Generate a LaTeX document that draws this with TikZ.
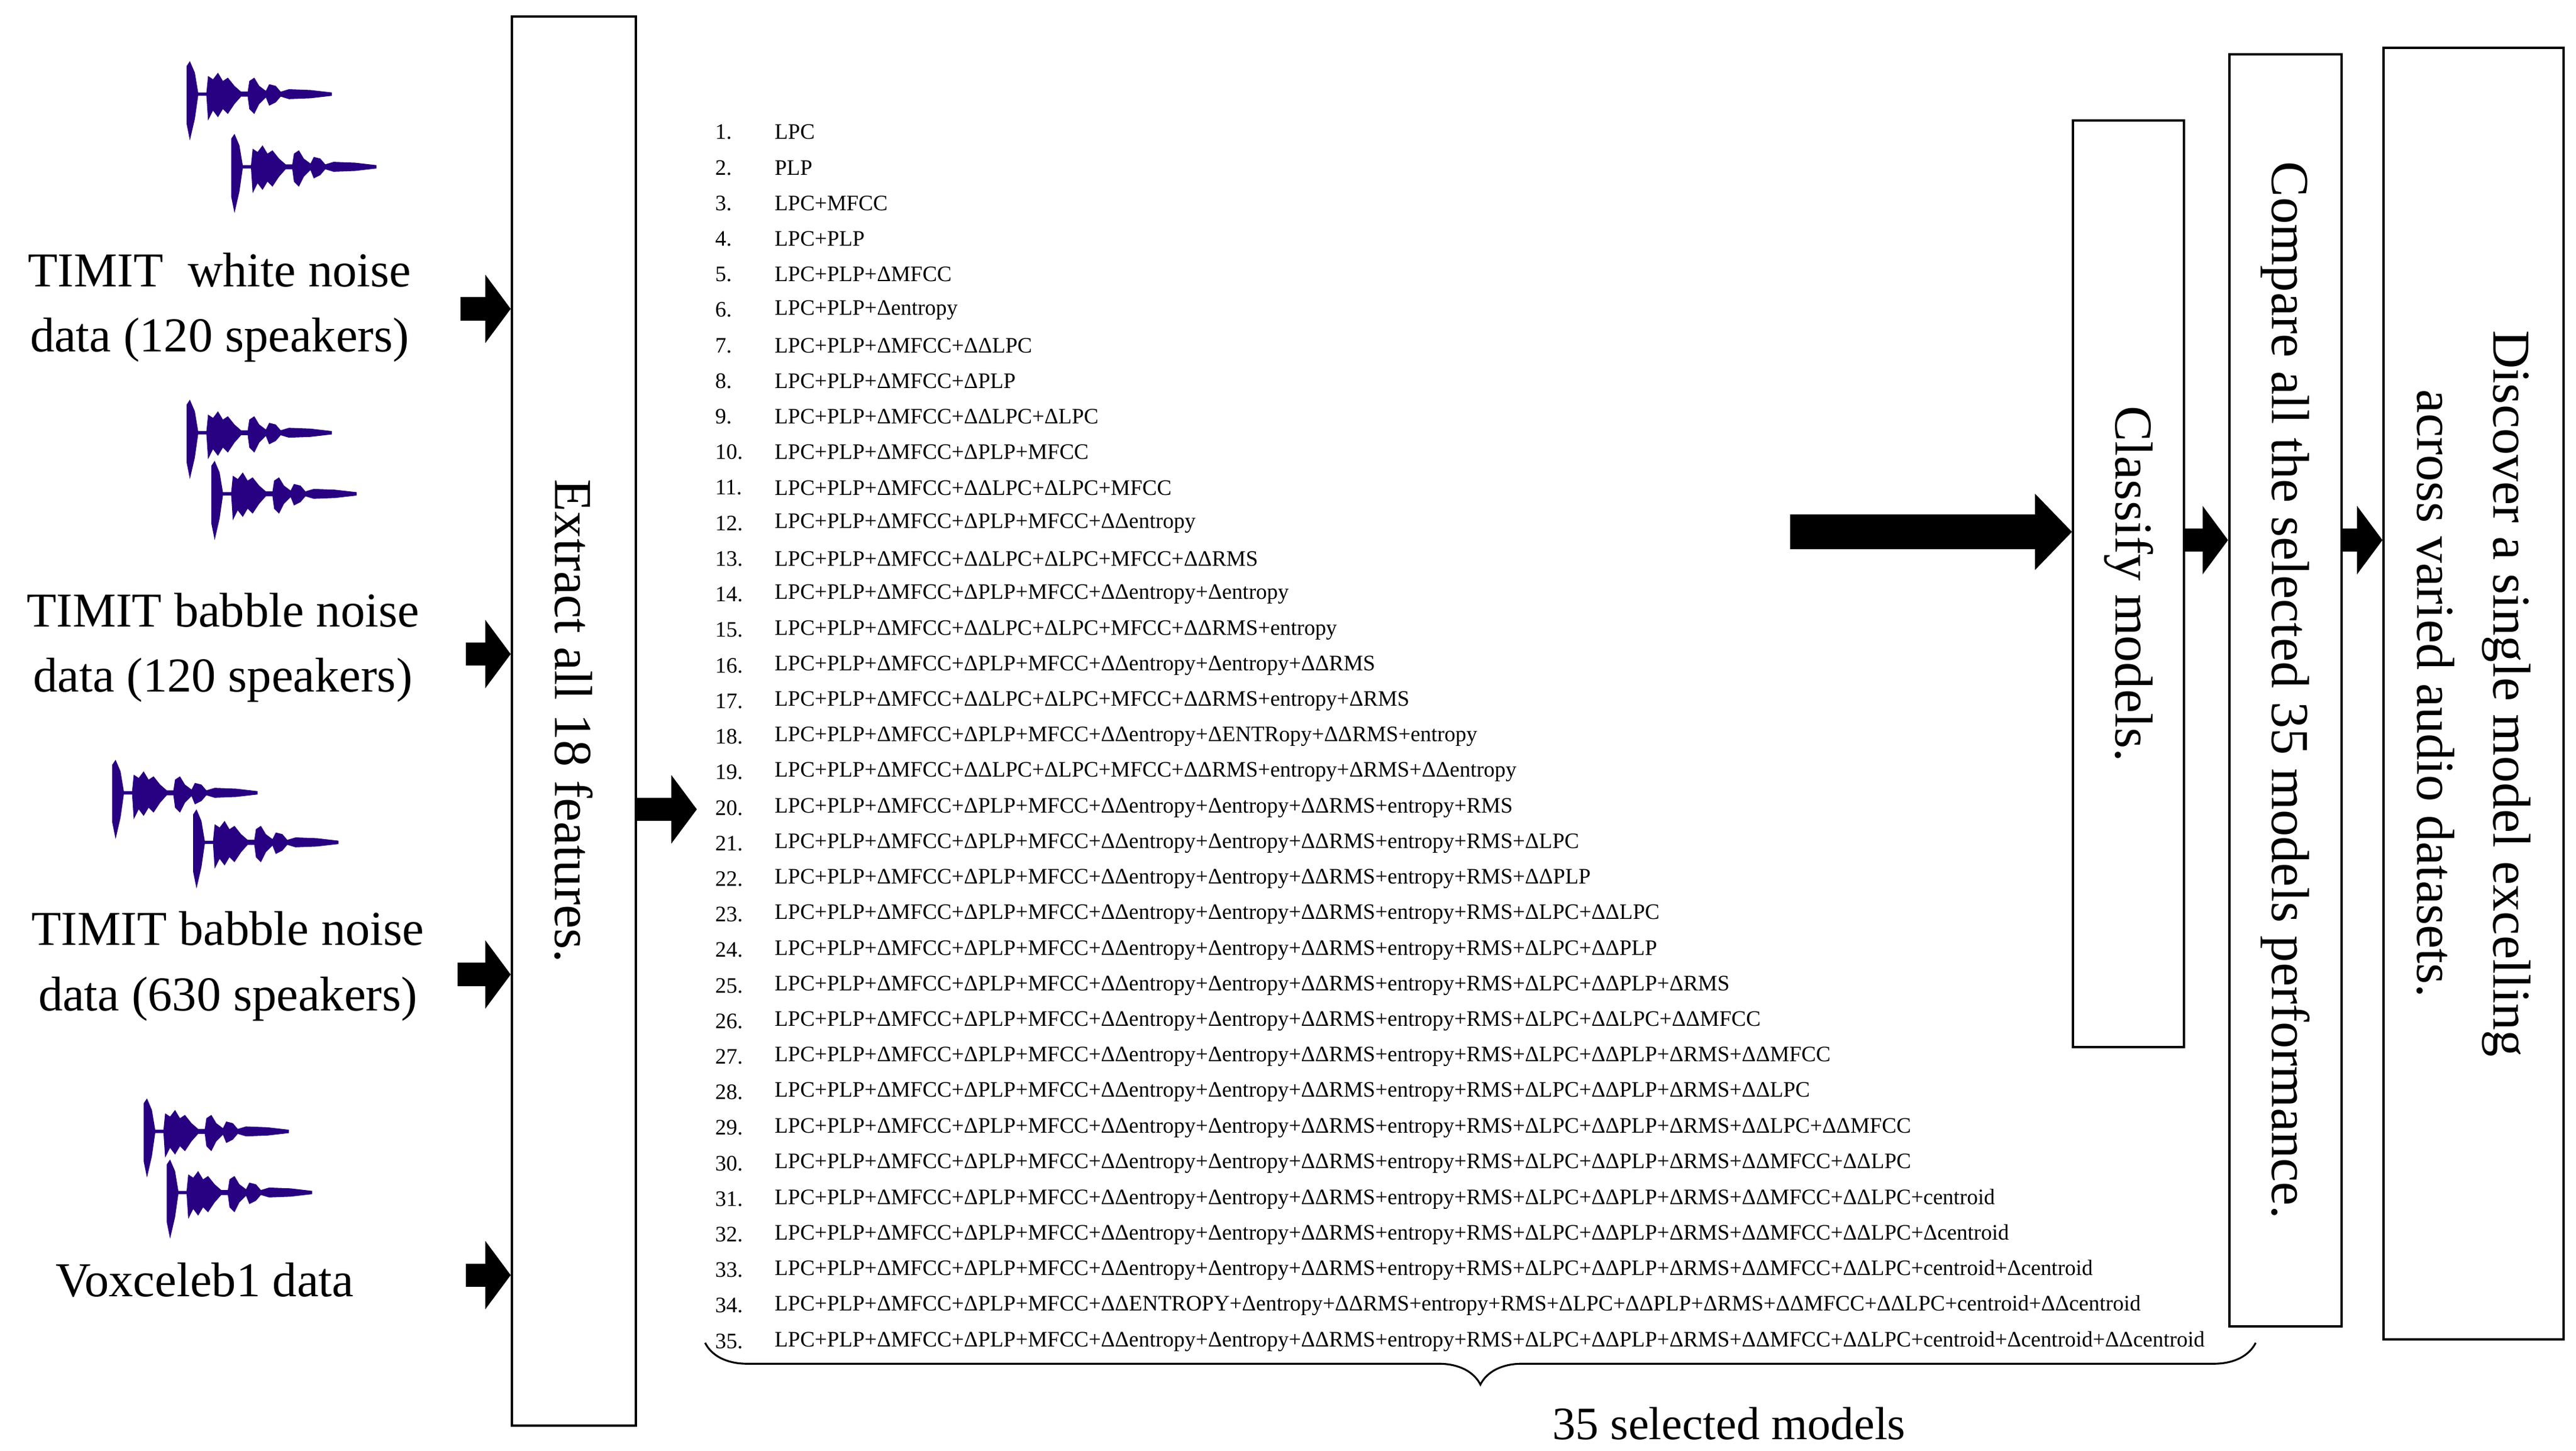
\documentclass[tikz,border=0pt]{standalone}
\usepackage{fontspec}
\setmainfont{Liberation Serif}
\usetikzlibrary{arrows.meta,decorations.pathreplacing}
\definecolor{wavecol}{RGB}{40,0,130}
\begin{document}
\begin{tikzpicture}[x=0.05cm,y=-0.05cm,
  lbl/.style={font=\fontsize{42}{52}\selectfont, align=center, inner sep=0},
  box/.style={draw, line width=2pt, inner sep=0},
  btxt/.style={font=\fontsize{46}{66}\selectfont, rotate=-90, align=center, inner sep=0},
  num/.style={anchor=west, font=\fontsize{19}{22}\selectfont, inner sep=0},
  itm/.style={anchor=west, font=\fontsize{19}{22}\selectfont, inner sep=0},
  blk/.style={line width=20pt, -{Triangle[length=22pt,width=58pt]}},
  wave/.pic={\fill[wavecol] (0,0) -- (0,-17) -- (2,-20) -- (5,-13) -- (7,-1) -- (12,-1) -- (13,-11) -- (16,-9) -- (19,-13) -- (22,-8) -- (25,-10) -- (29,-5) -- (33,-1.5) -- (37,-1.5) -- (38,-8) -- (41,-10) -- (44,-5) -- (48,-2) -- (50,-6) -- (54,-5) -- (57,-1.5) -- (62,-3) -- (75,-2.5) -- (88,-1) -- (88,1) -- (75,2.5) -- (62,3) -- (57,1.5) -- (54,5) -- (50,7) -- (48,2) -- (44,6) -- (41,12) -- (38,9) -- (37,1.5) -- (33,1.5) -- (29,6) -- (25,12) -- (22,9) -- (19,14) -- (16,10) -- (13,16) -- (12,1) -- (7,1) -- (5,15) -- (2,28) -- (0,18) -- cycle;}
]
\useasboundingbox (0,0) rectangle (1560,878.5);
\def\baseL{LPC+PLP+ΔMFCC+ΔPLP+MFCC+ΔΔentropy+Δentropy+ΔΔRMS+entropy+RMS}
\newcommand\li[2]{\node[num] (n#1) at (433,{80+(#1-1)*21.53}) {#1.};
  \node[itm] (t#1) at (469,{80+(#1-1)*21.53}) {\scalebox{0.99}[1]{#2}};}
% waveforms
\pic at (113,57) {wave}; \pic at (140,101) {wave};
\pic at (113,262) {wave}; \pic at (128,299) {wave};
\pic at (68,480) {wave}; \pic at (117,510) {wave};
\pic at (87,685) {wave}; \pic at (101,722) {wave};
% labels
\node[lbl] (d1) at (133,186) {TIMIT\ \ white noise\\[4pt]data (120 speakers)};
\node[lbl] (d2) at (135,392) {TIMIT babble noise\\[4pt]data (120 speakers)};
\node[lbl] (d3) at (138,585) {TIMIT babble noise\\[4pt]data (630 speakers)};
\node[lbl] (d4) at (124,775) {Voxceleb1 data};
% boxes
\node[box, minimum width=75*0.05cm, minimum height=853*0.05cm] (ext) at (347.5,436.5) {};
\node[btxt] at (ext.center) {Extract all 18 features.};
\node[box, minimum width=67*0.05cm, minimum height=561*0.05cm] (cls) at (1289,353.5) {};
\node[btxt] at (cls.center) {Classify models.};
\node[box, minimum width=68*0.05cm, minimum height=770*0.05cm] (cmp) at (1384,418) {};
\node[btxt] at (cmp.center) {Compare all the selected 35 models performance.};
\node[box, minimum width=109*0.05cm, minimum height=782*0.05cm] (dis) at (1498,420) {};
\node[btxt] at (dis.center) {Discover a single model excelling\\across varied audio datasets.};
% list
\li{1}{LPC}
\li{2}{PLP}
\li{3}{LPC+MFCC}
\li{4}{LPC+PLP}
\li{5}{LPC+PLP+ΔMFCC}
\li{6}{LPC+PLP+Δentropy}
\li{7}{LPC+PLP+ΔMFCC+ΔΔLPC}
\li{8}{LPC+PLP+ΔMFCC+ΔPLP}
\li{9}{LPC+PLP+ΔMFCC+ΔΔLPC+ΔLPC}
\li{10}{LPC+PLP+ΔMFCC+ΔPLP+MFCC}
\li{11}{LPC+PLP+ΔMFCC+ΔΔLPC+ΔLPC+MFCC}
\li{12}{LPC+PLP+ΔMFCC+ΔPLP+MFCC+ΔΔentropy}
\li{13}{LPC+PLP+ΔMFCC+ΔΔLPC+ΔLPC+MFCC+ΔΔRMS}
\li{14}{LPC+PLP+ΔMFCC+ΔPLP+MFCC+ΔΔentropy+Δentropy}
\li{15}{LPC+PLP+ΔMFCC+ΔΔLPC+ΔLPC+MFCC+ΔΔRMS+entropy}
\li{16}{LPC+PLP+ΔMFCC+ΔPLP+MFCC+ΔΔentropy+Δentropy+ΔΔRMS}
\li{17}{LPC+PLP+ΔMFCC+ΔΔLPC+ΔLPC+MFCC+ΔΔRMS+entropy+ΔRMS}
\li{18}{LPC+PLP+ΔMFCC+ΔPLP+MFCC+ΔΔentropy+ΔENTRopy+ΔΔRMS+entropy}
\li{19}{LPC+PLP+ΔMFCC+ΔΔLPC+ΔLPC+MFCC+ΔΔRMS+entropy+ΔRMS+ΔΔentropy}
\li{20}{\baseL}
\li{21}{\baseL+ΔLPC}
\li{22}{\baseL+ΔΔPLP}
\li{23}{\baseL+ΔLPC+ΔΔLPC}
\li{24}{\baseL+ΔLPC+ΔΔPLP}
\li{25}{\baseL+ΔLPC+ΔΔPLP+ΔRMS}
\li{26}{\baseL+ΔLPC+ΔΔLPC+ΔΔMFCC}
\li{27}{\baseL+ΔLPC+ΔΔPLP+ΔRMS+ΔΔMFCC}
\li{28}{\baseL+ΔLPC+ΔΔPLP+ΔRMS+ΔΔLPC}
\li{29}{\baseL+ΔLPC+ΔΔPLP+ΔRMS+ΔΔLPC+ΔΔMFCC}
\li{30}{\baseL+ΔLPC+ΔΔPLP+ΔRMS+ΔΔMFCC+ΔΔLPC}
\li{31}{\baseL+ΔLPC+ΔΔPLP+ΔRMS+ΔΔMFCC+ΔΔLPC+centroid}
\li{32}{\baseL+ΔLPC+ΔΔPLP+ΔRMS+ΔΔMFCC+ΔΔLPC+Δcentroid}
\li{33}{\baseL+ΔLPC+ΔΔPLP+ΔRMS+ΔΔMFCC+ΔΔLPC+centroid+Δcentroid}
\li{34}{LPC+PLP+ΔMFCC+ΔPLP+MFCC+ΔΔENTROPY+Δentropy+ΔΔRMS+entropy+RMS+ΔLPC+ΔΔPLP+ΔRMS+ΔΔMFCC+ΔΔLPC+centroid+ΔΔcentroid}
\li{35}{\baseL+ΔLPC+ΔΔPLP+ΔRMS+ΔΔMFCC+ΔΔLPC+centroid+Δcentroid+ΔΔcentroid}
% brace
\coordinate (bl) at (427,813);
\coordinate (br) at (1366,813);
\draw[line width=1.6pt, decorate, decoration={brace, mirror, amplitude=36pt}] (bl) -- (br);
\node[font=\fontsize{40}{48}\selectfont, inner sep=0] (sel) at (1047,862) {35 selected models};
% arrows
\coordinate (a1) at (279,187); \coordinate (a2) at (282,396);
\coordinate (a3) at (277,590); \coordinate (a4) at (282,772);
\draw[blk] (a1) -- (a1 -| ext.west);
\draw[blk] (a2) -- (a2 -| ext.west);
\draw[blk] (a3) -- (a3 -| ext.west);
\draw[blk] (a4) -- (a4 -| ext.west);
\coordinate (a5) at (422,490);
\draw[blk] (ext.east |- a5) -- (a5);
\coordinate (a6) at (1084,322);
\draw[line width=30pt, -{Triangle[length=32pt,width=64pt]}] (a6) -- (a6 -| cls.west);
\coordinate (a7) at (1323,327);
\draw[blk] (a7) -- (a7 -| cmp.west);
\coordinate (a8) at (1418,327);
\draw[blk] (a8) -- (a8 -| dis.west);
\end{tikzpicture}
\end{document}
